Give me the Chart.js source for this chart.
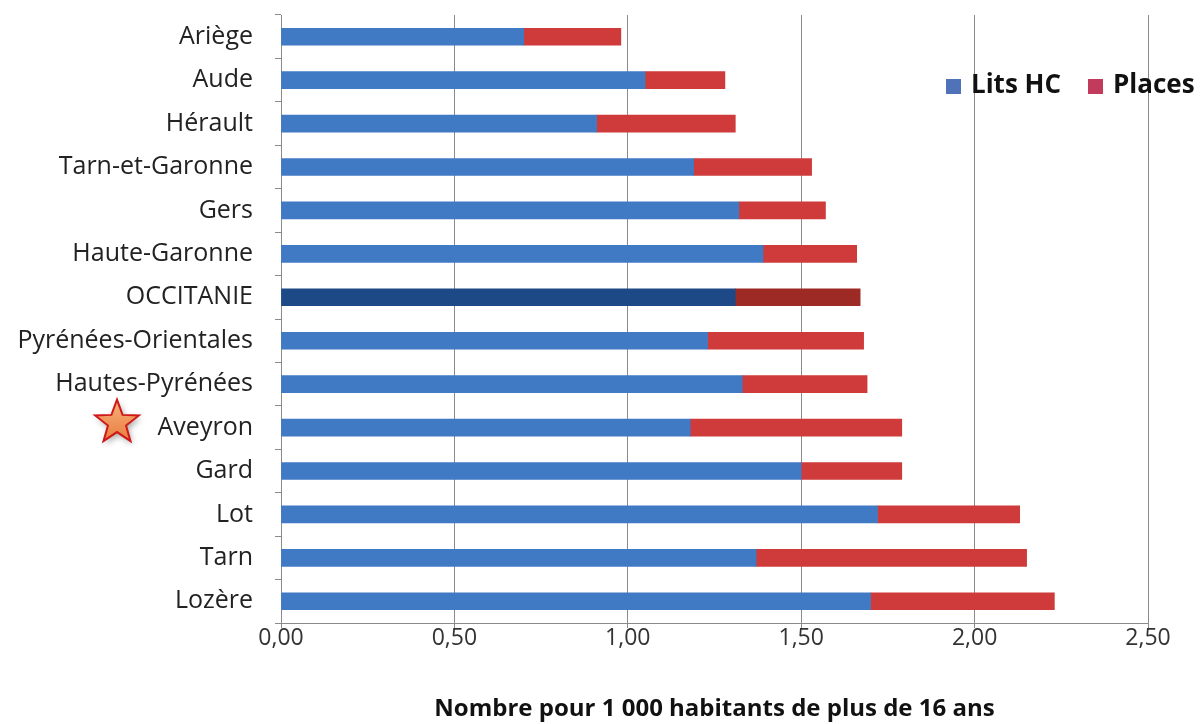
<!DOCTYPE html>
<html>
<head>
<meta charset="utf-8">
<script src="https://cdn.jsdelivr.net/npm/chart.js@4.4.1/dist/chart.umd.min.js"></script>
<style>
  html, body { margin: 0; padding: 0; background: #fff; }
  canvas { display: block; }
</style>
</head>
<body>
<canvas id="lits" width="1203" height="724"></canvas>
<script>
// départements, du haut vers le bas
const departements = ["Ariège", "Aude", "Hérault", "Tarn-et-Garonne", "Gers", "Haute-Garonne", "OCCITANIE",
  "Pyrénées-Orientales", "Hautes-Pyrénées", "Aveyron", "Gard", "Lot", "Tarn", "Lozère"];
const litsHC = [0.70, 1.05, 0.91, 1.19, 1.32, 1.39, 1.31, 1.23, 1.33, 1.18, 1.50, 1.72, 1.37, 1.70];
const places = [0.28, 0.23, 0.40, 0.34, 0.25, 0.27, 0.36, 0.45, 0.36, 0.61, 0.29, 0.41, 0.78, 0.53];
const xTicks = [0, 0.5, 1, 1.5, 2, 2.5];
const region = "OCCITANIE";
const departementMarque = "Aveyron";

const bleu = "#4079c4", bleuFonce = "#1d4a86";
const rouge = "#cf3b3b", rougeFonce = "#9e2a26";

const police = "'Open Sans', 'Noto Sans', sans-serif";

// légende dessinée dans la zone du graphique, comme dans Excel
const legendePlugin = {
  id: "legende",
  afterDraw(chart) {
    const ctx = chart.ctx;
    const items = [
      { texte: "Lits HC", couleur: "#4f72b8", x: 946 },
      { texte: "Places", couleur: "#c23a5c", x: 1088 }
    ];
    ctx.save();
    ctx.font = "bold 26px " + police;
    ctx.textBaseline = "middle";
    items.forEach(it => {
      ctx.fillStyle = it.couleur;
      ctx.fillRect(it.x, 79, 15, 15);
      ctx.fillStyle = "#111";
      ctx.fillText(it.texte, it.x + 25, 86);
    });
    ctx.restore();
  }
};

// étoile devant le département mis en avant
const etoilePlugin = {
  id: "etoile",
  afterDraw(chart) {
    const ctx = chart.ctx;
    const y = chart.scales.y.getPixelForValue(departements.indexOf(departementMarque)) - 5;
    const cx = 117, R = 23, r = 9.5;
    ctx.save();
    ctx.beginPath();
    for (let i = 0; i < 10; i++) {
      const a = -Math.PI / 2 + i * Math.PI / 5;
      const rr = i % 2 === 0 ? R : r;
      const px = cx + rr * Math.cos(a), py = y + rr * Math.sin(a);
      if (i === 0) ctx.moveTo(px, py); else ctx.lineTo(px, py);
    }
    ctx.closePath();
    ctx.shadowColor = "rgba(0,0,0,0.35)";
    ctx.shadowBlur = 6;
    ctx.shadowOffsetX = 2;
    ctx.shadowOffsetY = 3;
    const g = ctx.createLinearGradient(cx, y - R, cx, y + R);
    g.addColorStop(0, "#f6b27a");
    g.addColorStop(1, "#e8773a");
    ctx.fillStyle = g;
    ctx.fill();
    ctx.shadowColor = "transparent";
    ctx.strokeStyle = "#d01818";
    ctx.lineWidth = 2;
    ctx.stroke();
    ctx.restore();
  }
};

new Chart(document.getElementById("lits"), {
  type: "bar",
  data: {
    labels: departements,
    datasets: [
      {
        label: "Lits HC",
        data: litsHC,
        backgroundColor: departements.map(d => d === region ? bleuFonce : bleu),
        barThickness: 17
      },
      {
        label: "Places",
        data: places,
        backgroundColor: departements.map(d => d === region ? rougeFonce : rouge),
        barThickness: 17
      }
    ]
  },
  options: {
    indexAxis: "y",
    responsive: false,
    animation: false,
    layout: { padding: { top: 15, right: 55, left: 0, bottom: 0 } },
    plugins: {
      legend: { display: false },
      tooltip: { enabled: false }
    },
    scales: {
      x: {
        stacked: true,
        min: 0,
        max: 2.5,
        afterBuildTicks: scale => { scale.ticks = xTicks.map(v => ({ value: v })); },
        afterFit: scale => { scale.height = 101; scale.paddingLeft = 0; scale.paddingRight = 0; },
        ticks: {
          callback: v => v.toFixed(2).replace(".", ","),
          font: { family: police, size: 23 },
          color: "#333",
          padding: -3,
          maxRotation: 0
        },
        grid: { color: "#8a8a8a", lineWidth: 1, tickLength: 5 },
        border: { color: "#8a8a8a" },
        title: {
          display: true,
          text: "Nombre pour 1 000 habitants de plus de 16 ans",
          font: { family: police, size: 24, weight: "bold" },
          color: "#111",
          padding: { top: 0, bottom: 0 }
        }
      },
      y: {
        stacked: true,
        afterFit: scale => { scale.width = 281; scale.paddingTop = 0; scale.paddingBottom = 0; },
        ticks: {
          font: { family: police, size: 25 },
          color: "#222",
          padding: 22
        },
        grid: { offset: true, drawOnChartArea: false, tickLength: 6, color: "#8a8a8a" },
        border: { color: "#8a8a8a" }
      }
    }
  },
  plugins: [legendePlugin, etoilePlugin]
});
</script>
</body>
</html>
